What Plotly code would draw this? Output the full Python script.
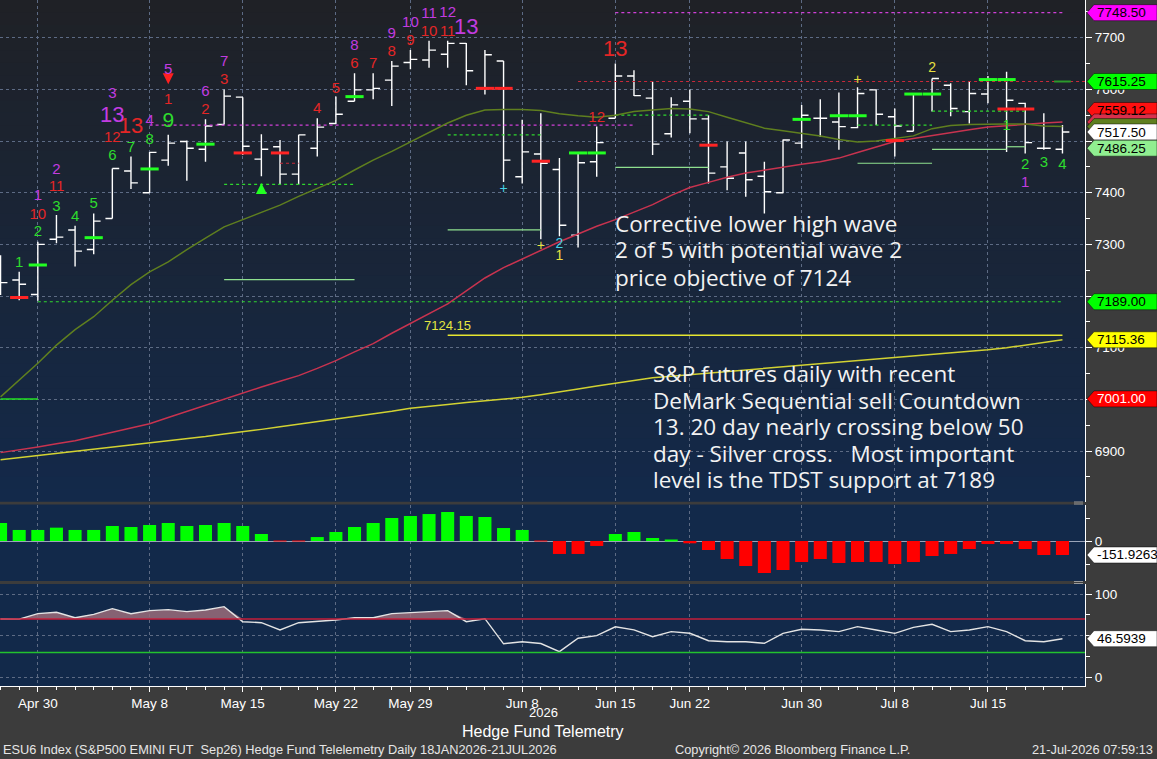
import plotly.graph_objects as go

# ---- data (ESU6 daily, Apr 28 - Jul 21 2026) ----
dates = ["Apr 28", "Apr 29", "Apr 30", "May 1", "May 4", "May 5", "May 6", "May 7",
         "May 8", "May 11", "May 12", "May 13", "May 14", "May 15", "May 18", "May 19",
         "May 20", "May 21", "May 22", "May 26", "May 27", "May 28", "May 29", "Jun 1",
         "Jun 2", "Jun 3", "Jun 4", "Jun 5", "Jun 8", "Jun 9", "Jun 10", "Jun 11",
         "Jun 12", "Jun 15", "Jun 16", "Jun 17", "Jun 18", "Jun 22", "Jun 23", "Jun 24",
         "Jun 25", "Jun 26", "Jun 29", "Jun 30", "Jul 1", "Jul 2", "Jul 6", "Jul 7",
         "Jul 8", "Jul 9", "Jul 10", "Jul 13", "Jul 14", "Jul 15", "Jul 16", "Jul 17",
         "Jul 20", "Jul 21"]
tick_dates = ["Apr 30", "May 8", "May 15", "May 22", "May 29", "Jun 8", "Jun 15",
              "Jun 22", "Jun 30", "Jul 8", "Jul 15"]
price_ticks = [6900, 7000, 7100, 7200, 7300, 7400, 7500, 7600, 7700]
price_tick_text = ["6900", "", "7100", "", "7300", "7400", "", "7600", "7700"]

opens = [7260, 7231, 7203, 7310, 7328, 7290, 7350, 7442, 7400, 7463, 7499, 7484, 7532, 7585,
         7465, 7489, 7436, 7486, 7534, 7577, 7599, 7618, 7652, 7657, 7668, 7689, 7602, 7655,
         7431, 7475, 7445, 7318, 7460, 7544, 7626, 7583, 7514, 7577, 7543, 7450, 7477, 7432,
         7400, 7496, 7544, 7537, 7526, 7599, 7547, 7519, 7591, 7608, 7557, 7591, 7619, 7573,
         7486, 7484]
highs = [7279, 7247, 7305, 7357, 7336, 7360, 7447, 7470, 7479, 7512, 7501, 7542, 7600, 7585,
         7513, 7502, 7512, 7544, 7586, 7631, 7631, 7655, 7676, 7694, 7694, 7690, 7676, 7655,
         7541, 7554, 7467, 7477, 7528, 7650, 7637, 7615, 7585, 7600, 7550, 7499, 7499, 7460,
         7503, 7570, 7581, 7594, 7604, 7600, 7563, 7592, 7621, 7612, 7615, 7626, 7634, 7574,
         7554, 7531]
lows = [7202, 7192, 7191, 7302, 7257, 7281, 7350, 7407, 7400, 7452, 7423, 7460, 7532, 7473,
        7432, 7416, 7416, 7470, 7533, 7577, 7581, 7568, 7639, 7642, 7642, 7608, 7590, 7421,
        7418, 7310, 7316, 7294, 7431, 7544, 7587, 7473, 7507, 7515, 7418, 7405, 7392, 7360,
        7399, 7486, 7508, 7483, 7525, 7531, 7470, 7519, 7557, 7548, 7534, 7573, 7479, 7476,
        7483, 7476]
closes = [7226, 7223, 7300, 7314, 7287, 7345, 7447, 7419, 7478, 7496, 7486, 7529, 7587, 7490,
          7484, 7436, 7512, 7527, 7552, 7599, 7602, 7645, 7658, 7676, 7689, 7636, 7667, 7463,
          7479, 7457, 7337, 7458, 7497, 7626, 7588, 7494, 7570, 7543, 7438, 7428, 7425, 7402,
          7502, 7550, 7544, 7528, 7592, 7552, 7529, 7591, 7621, 7563, 7592, 7619, 7579, 7497,
          7486, 7517.5]

sma20 = [7005, 7038, 7070, 7105, 7135, 7160, 7192, 7222, 7247, 7266, 7290, 7312, 7334, 7348,
         7362, 7376, 7393, 7408, 7424, 7444, 7463, 7480, 7498, 7516, 7535, 7550, 7560, 7561,
         7561, 7559, 7553, 7549, 7546, 7550, 7557, 7560, 7563, 7562, 7557, 7546, 7535, 7525,
         7520, 7515, 7510, 7503, 7498, 7500, 7505, 7510, 7524, 7530, 7532, 7533, 7533, 7533,
         7529, 7528]
sma50 = [6897, 6902, 6908, 6914, 6920, 6928, 6936, 6944, 6953, 6965, 6977, 6989, 7001, 7013,
         7024, 7035, 7046, 7060, 7075, 7092, 7108, 7128, 7147, 7165, 7185, 7210, 7235, 7255,
         7272, 7289, 7305, 7320, 7335, 7348, 7362, 7377, 7395, 7410, 7420, 7430, 7438, 7444,
         7450, 7455, 7460, 7467, 7478, 7489, 7499, 7505, 7511, 7516, 7522, 7527, 7530, 7533,
         7535, 7537]
sma200 = [6883, 6887, 6891, 6895, 6899, 6903, 6907, 6911, 6915, 6919, 6924, 6928, 6933, 6937,
          6942, 6947, 6952, 6956, 6961, 6966, 6972, 6977, 6983, 6986, 6990, 6994, 6997, 7000,
          7004, 7009, 7014, 7020, 7026, 7031, 7037, 7042, 7045, 7048, 7050, 7053, 7056, 7059,
          7062, 7066, 7069, 7072, 7075, 7078, 7080, 7083, 7086, 7089, 7092, 7096, 7100, 7105,
          7110, 7115.36]

hist = [196, 120, 120, 145, 120, 120, 163, 152, 174, 196, 163, 174, 196, 163, 76, -3, -3, 43,
        98, 152, 196, 250, 272, 293, 315, 272, 261, 141, 120, -2, -141, -141, -54, 76, 98, 33,
        11, -25, -98, -196, -272, -348, -315, -228, -196, -239, -228, -228, -250, -228, -163,
        -141, -87, -33, -33, -87, -152, -151.9263]
osc = [70.2, 70, 76.5, 78.1, 71.7, 75.7, 82.5, 76.5, 80.1, 81.3, 78.9, 80.9, 84.9, 66.9, 65.7,
       57, 65.7, 66.9, 69, 71.7, 71.7, 76.5, 77.7, 78.9, 80.1, 66.9, 70.5, 40.5, 43, 40.8, 31.1,
       47.1, 50.2, 60.8, 57.2, 49, 55, 53.1, 44.2, 43, 43, 41.1, 53, 57.8, 57, 55, 61, 57, 53,
       60.2, 63.8, 55, 57, 61, 55, 44.2, 43, 46.5939]
osc_upper, osc_lower = 70, 30

# DeMark counts: (date, price, label)
setup_green = [("Apr 29", 7264, "1"), ("Apr 30", 7324, "2"), ("May 1", 7372, "3"),
               ("May 4", 7353, "4"), ("May 5", 7378, "5"), ("May 6", 7471, "6"),
               ("May 7", 7487, "7"), ("May 8", 7502, "8"), ("Jul 16", 7529, "1"),
               ("Jul 17", 7454, "2"), ("Jul 20", 7458, "3"), ("Jul 21", 7454, "4")]
setup_green_big = [("May 11", 7537, "9")]
countdown_red = [("Apr 30", 7357, "10"), ("May 1", 7410, "11"), ("May 6", 7506, "12"),
                 ("May 11", 7579, "1"), ("May 13", 7560, "2"), ("May 14", 7618, "3"),
                 ("May 21", 7562, "4"), ("May 22", 7601, "5"), ("May 26", 7649, "6"),
                 ("May 27", 7649, "7"), ("May 28", 7672, "8"), ("May 29", 7694, "9"),
                 ("Jun 1", 7711, "10"), ("Jun 2", 7711, "11"), ("Jun 12", 7545, "12")]
countdown_red_big = [("May 7", 7527, "13"), ("Jun 15", 7676, "13")]
combo_magenta = [("Apr 30", 7394, "1"), ("May 1", 7444, "2"), ("May 6", 7591, "3"),
                 ("May 8", 7539, "4"), ("May 11", 7637, "5"), ("May 13", 7595, "6"),
                 ("May 14", 7653, "7"), ("May 26", 7684, "8"), ("May 28", 7707, "9"),
                 ("May 29", 7728, "10"), ("Jun 1", 7746, "11"), ("Jun 2", 7748, "12"),
                 ("Jul 17", 7419, "1")]
combo_magenta_big = [("May 6", 7548, "13"), ("Jun 3", 7717, "13")]
marks_yellow = [("Jun 9", 7295, "+"), ("Jun 10", 7276, "1"), ("Jul 6", 7618, "+"),
                ("Jul 10", 7641, "2")]
marks_cyan = [("Jun 5", 7407, "+"), ("Jun 10", 7300, "2")]
sell_arrows = [("May 11", 7610)]
buy_arrows = [("May 18", 7419)]

red_ticks = [("Apr 29", 7197), ("May 15", 7477), ("May 19", 7477), ("Jun 4", 7602),
             ("Jun 5", 7602), ("Jun 9", 7461), ("Jun 23", 7492), ("Jul 8", 7501),
             ("Jul 16", 7562), ("Jul 17", 7562)]
green_ticks = [("Apr 30", 7260), ("May 5", 7313), ("May 8", 7446), ("May 13", 7494),
               ("May 26", 7586), ("Jun 11", 7477), ("Jun 12", 7477), ("Jun 30", 7542),
               ("Jul 2", 7549), ("Jul 6", 7549), ("Jul 9", 7591), ("Jul 10", 7591),
               ("Jul 15", 7619), ("Jul 16", 7619)]
last_green_tick = [("Jul 21", 7615.25)]

# level segments: (start, end, price); end None = runs to the right edge
green_dotted = [("Apr 30", "Jul 21", 7189), ("May 14", "May 26", 7416), ("Jun 2", "Jun 9", 7512),
                ("Jun 15", "Jun 23", 7550), ("Jul 6", "Jul 10", 7531), ("Jul 10", "Jul 17", 7558)]
green_solid = [("May 14", "May 26", 7232), ("Jun 2", "Jun 9", 7328), ("Jun 15", "Jun 23", 7449),
               ("Jul 6", "Jul 10", 7457), ("Jul 10", "Jul 16", 7484), ("Jul 16", "Jul 17", 7489)]
bright_green = [("Apr 28", "Apr 30", 7001)]
red_dotted = [("Jun 11", None, 7615.25), ("May 19", "May 20", 7457)]
magenta_dotted = [("May 8", "Jun 16", 7531), ("Jun 15", "Jul 21", 7748.5)]
objective = [("Jun 2", "Jul 21", 7124.15)]

note1 = ["Corrective lower high wave", "2 of 5 with potential wave 2", "price objective of 7124"]
note2 = ["S&P futures daily with recent", "DeMark Sequential sell Countdown",
         "13. 20 day nearly crossing below 50", "day - Silver cross.   Most important",
         "level is the TDST support at 7189"]

# ---- layout geometry ----
FONT = "Liberation Sans, Arial, sans-serif"
NOTE_FONT = "Open Sans, DejaVu Sans, sans-serif"
W, H = 1157, 759
PW, PH = 1085, 686


def px_x(px):
    return px / PW


def px_y(py):
    return (PH - py) / PH


MAIN_DOM = [px_y(501.5), 1.0]
HIST_DOM = [px_y(581), px_y(504.5)]
OSC_DOM = [0.0, px_y(584)]
MAIN_RNG = [6802.4, 7773.0]
HIST_RNG = [-434.8, 396.8]
OSC_RNG = [-9.92, 111.95]
X_RNG = [-0.03, 58.21]
GRID = "#5d6b84"

idx = list(range(len(dates)))
pos = {d: i for i, d in enumerate(dates)}

fig = go.Figure()


def seg_trace(segs, color, dash, width):
    xs, ys = [], []
    for s, e, v in segs:
        xs += [pos[s], pos[e] if e else X_RNG[1], None]
        ys += [v, v, None]
    return go.Scatter(x=xs, y=ys, mode="lines", hoverinfo="skip",
                      line=dict(color=color, dash=dash, width=width))


def text_trace(items, color, size):
    return go.Scatter(x=[pos[d] for d, _, _ in items], y=[v for _, v, _ in items],
                      text=[t for _, _, t in items], mode="text", hoverinfo="skip",
                      textposition="middle center",
                      textfont=dict(color=color, size=size, family=FONT))


def tick_trace(items, color, size=13, width=3):
    return go.Scatter(x=[pos[d] for d, _ in items], y=[v for _, v in items], mode="markers",
                      hoverinfo="skip",
                      marker=dict(symbol="line-ew", size=size, line=dict(color=color, width=width)))


# level lines
fig.add_trace(seg_trace(green_dotted, "#2fd62f", "dot", 1.2))
fig.add_trace(seg_trace(green_solid, "#8fe08f", "solid", 1.2))
fig.add_trace(seg_trace(bright_green, "#22e022", "solid", 1.5))
fig.add_trace(seg_trace(red_dotted, "#c8283a", "dot", 1.2))
fig.add_trace(seg_trace(magenta_dotted, "#d040d8", "dot", 1.2))
fig.add_trace(seg_trace(objective, "#e6e630", "solid", 1.5))

# moving averages
fig.add_trace(go.Scatter(x=idx, y=sma200, mode="lines", line=dict(color="#d2d232", width=1.5), hoverinfo="skip"))
fig.add_trace(go.Scatter(x=idx, y=sma50, mode="lines", line=dict(color="#c8334f", width=1.5), hoverinfo="skip"))
fig.add_trace(go.Scatter(x=idx, y=sma20, mode="lines", line=dict(color="#5f7f1f", width=1.5), hoverinfo="skip"))

# price bars
fig.add_trace(go.Ohlc(x=idx, open=opens, high=highs, low=lows, close=closes, tickwidth=0.37,
                      increasing=dict(line=dict(color="white", width=1.4)),
                      decreasing=dict(line=dict(color="white", width=1.4)),
                      hoverinfo="skip"))

# short level ticks
fig.add_trace(tick_trace(red_ticks, "#ff2424"))
fig.add_trace(tick_trace(green_ticks, "#22ff22"))
fig.add_trace(tick_trace(last_green_tick, "#2c9a2c", size=12, width=2))

# arrows
fig.add_trace(go.Scatter(x=[pos[d] for d, _ in sell_arrows], y=[v for _, v in sell_arrows],
                         mode="markers", hoverinfo="skip",
                         marker=dict(symbol="arrow-down", size=11, color="#ff2020")))
fig.add_trace(go.Scatter(x=[pos[d] for d, _ in buy_arrows], y=[v for _, v in buy_arrows],
                         mode="markers", hoverinfo="skip",
                         marker=dict(symbol="arrow-up", size=11, color="#22ff22")))

# DeMark counts
fig.add_trace(text_trace(setup_green, "#2edc2e", 15))
fig.add_trace(text_trace(setup_green_big, "#2edc2e", 21))
fig.add_trace(text_trace(countdown_red, "#e42626", 15))
fig.add_trace(text_trace(countdown_red_big, "#e42626", 22))
fig.add_trace(text_trace(combo_magenta, "#c23ce0", 15))
fig.add_trace(text_trace(combo_magenta_big, "#c23ce0", 22))
fig.add_trace(text_trace(marks_yellow, "#e8e040", 14))
fig.add_trace(text_trace(marks_cyan, "#46d2e6", 14))

# histogram panel
fig.add_trace(go.Bar(x=idx, y=hist, yaxis="y2", width=0.7, hoverinfo="skip",
                     marker=dict(color=["#00ff00" if v > 0 else "#ff0000" for v in hist], line_width=0)))

# oscillator panel
fig.add_trace(go.Scatter(x=idx, y=[osc_upper] * len(idx), yaxis="y3", mode="lines",
                         line=dict(width=0), hoverinfo="skip"))
fig.add_trace(go.Scatter(x=idx, y=[max(v, osc_upper) for v in osc], yaxis="y3", mode="lines",
                         line=dict(width=0), fill="tonexty", fillcolor="rgba(155,108,122,0.85)",
                         hoverinfo="skip"))
fig.add_trace(go.Scatter(x=idx, y=osc, yaxis="y3", mode="lines",
                         line=dict(color="#e4e4e4", width=1.4), hoverinfo="skip"))

shapes = []
# background gradient of the price panel
N = 40
top_c, bot_c = (31, 33, 38), (19, 41, 74)
for k in range(N):
    f = (k + 0.5) / N
    c = tuple(round(bot_c[j] + (top_c[j] - bot_c[j]) * f) for j in range(3))
    y0 = MAIN_DOM[0] + (MAIN_DOM[1] - MAIN_DOM[0]) * k / N
    y1 = MAIN_DOM[0] + (MAIN_DOM[1] - MAIN_DOM[0]) * (k + 1) / N
    shapes.append(dict(type="rect", xref="paper", yref="paper", x0=0, x1=1, y0=y0, y1=y1 + 0.001,
                       fillcolor="rgb(%d,%d,%d)" % c, line_width=0, layer="below"))

for lvl, col in ((osc_upper, "#c41e3a"), (osc_lower, "#22c22e")):
    shapes.append(dict(type="line", xref="paper", yref="y3", x0=0, x1=1, y0=lvl, y1=lvl,
                       line=dict(color=col, width=1.5)))

# small grip marks at the right end of the panel separators
for sy in (503, 582.5):
    for dy in (-1, 1):
        shapes.append(dict(type="line", xref="paper", yref="paper", x0=px_x(1074), x1=px_x(1083),
                           y0=px_y(sy + dy), y1=px_y(sy + dy), line=dict(color="#9a9a9a", width=1)))


def val_to_py(v, rng, dom):
    frac = (v - rng[0]) / (rng[1] - rng[0])
    yp = dom[0] + frac * (dom[1] - dom[0])
    return PH - yp * PH


annotations = []


def add_tag(v, rng, dom, bg, fg, text):
    yc = val_to_py(v, rng, dom)
    xt, xb, xe = px_x(1087), px_x(1094), px_x(W)
    a, b = px_y(yc - 8), px_y(yc + 8)
    m = px_y(yc)
    shapes.append(dict(type="path", xref="paper", yref="paper",
                       path="M %f,%f L %f,%f L %f,%f L %f,%f L %f,%f Z" % (xt, m, xb, a, xe, a, xe, b, xb, b),
                       fillcolor=bg, line=dict(color="rgba(0,0,0,0.45)", width=1)))
    if text:
        annotations.append(dict(xref="paper", yref="paper", x=px_x(1095), y=m, xanchor="left",
                                yanchor="middle", text=text, showarrow=False,
                                font=dict(family=FONT, size=13.5, color=fg)))


add_tag(7748.50, MAIN_RNG, MAIN_DOM, "#ff00ff", "black", "7748.50")
add_tag(7615.25, MAIN_RNG, MAIN_DOM, "#00ff00", "black", "7615.25")
add_tag(7559.12, MAIN_RNG, MAIN_DOM, "#ff1010", "black", "7559.12")
add_tag(sma50[-1], MAIN_RNG, MAIN_DOM, "#d8304c", "black", "")
add_tag(sma20[-1], MAIN_RNG, MAIN_DOM, "#5f7f1f", "black", "")
add_tag(closes[-1], MAIN_RNG, MAIN_DOM, "#ffffff", "black", "7517.50")
add_tag(7486.25, MAIN_RNG, MAIN_DOM, "#90ee90", "black", "7486.25")
add_tag(7189.00, MAIN_RNG, MAIN_DOM, "#00ff00", "black", "7189.00")
add_tag(sma200[-1], MAIN_RNG, MAIN_DOM, "#ffff00", "black", "7115.36")
add_tag(7001.00, MAIN_RNG, MAIN_DOM, "#ff0000", "white", "7001.00")
add_tag(hist[-1], HIST_RNG, HIST_DOM, "#ffffff", "black", "-151.9263")
add_tag(osc[-1], OSC_RNG, OSC_DOM, "#ffffff", "black", "46.5939")

# commentary
for k, line in enumerate(note1):
    annotations.append(dict(xref="paper", yref="paper", x=px_x(613), y=px_y(223 + 27 * k),
                            xanchor="left", yanchor="middle", text=line, showarrow=False,
                            font=dict(family=NOTE_FONT, size=22.5, color="#f2f2f2")))
for k, line in enumerate(note2):
    annotations.append(dict(xref="paper", yref="paper", x=px_x(651), y=px_y(373.5 + 26.6 * k),
                            xanchor="left", yanchor="middle", text=line, showarrow=False,
                            font=dict(family=NOTE_FONT, size=22.5, color="#f2f2f2")))

annotations.append(dict(xref="x", yref="y", x=pos["Jun 2"], y=objective[0][2], xanchor="center",
                        yanchor="bottom", text="7124.15", showarrow=False,
                        font=dict(family=FONT, size=13, color="#e6e640")))

# bottom texts
annotations += [
    dict(xref="paper", yref="paper", x=px_x(543), y=px_y(712), text="2026", showarrow=False,
         xanchor="center", yanchor="middle", font=dict(family=FONT, size=13, color="white")),
    dict(xref="paper", yref="paper", x=px_x(543), y=px_y(731), text="Hedge Fund Telemetry",
         showarrow=False, xanchor="center", yanchor="middle",
         font=dict(family=FONT, size=16, color="white")),
    dict(xref="paper", yref="paper", x=px_x(1), y=px_y(749),
         text="ESU6 Index (S&P500 EMINI FUT  Sep26) Hedge Fund Telelemetry Daily 18JAN2026-21JUL2026",
         showarrow=False, xanchor="left", yanchor="middle",
         font=dict(family=FONT, size=12.8, color="#e6e6e6")),
    dict(xref="paper", yref="paper", x=px_x(792), y=px_y(749),
         text="Copyright\u00a9 2026 Bloomberg Finance L.P.", showarrow=False, xanchor="center",
         yanchor="middle", font=dict(family=FONT, size=12.8, color="#e6e6e6")),
    dict(xref="paper", yref="paper", x=px_x(1155), y=px_y(749), text="21-Jul-2026 07:59:13",
         showarrow=False, xanchor="right", yanchor="middle",
         font=dict(family=FONT, size=12.8, color="#e6e6e6")),
]

tickfont = dict(family=FONT, size=13.5, color="white")
fig.update_layout(
    width=W, height=H, autosize=False,
    margin=dict(l=0, r=W - PW, t=0, b=H - PH),
    paper_bgcolor="#3c3c3c", plot_bgcolor="#12294a",
    showlegend=False, hovermode=False, bargap=0.3,
    shapes=shapes, annotations=annotations,
    xaxis=dict(domain=[0, 1], range=X_RNG, anchor="y3", tickmode="array",
               tickvals=[pos[d] for d in tick_dates], ticktext=tick_dates,
               ticks="outside", ticklen=5, tickcolor="white", tickfont=tickfont,
               showline=True, linecolor="white", linewidth=1, zeroline=False,
               showgrid=True, gridcolor=GRID, griddash="dot", gridwidth=1,
               minor=dict(tickvals=idx, ticks="outside", ticklen=3, tickcolor="white", showgrid=False),
               rangeslider=dict(visible=False)),
    yaxis=dict(domain=MAIN_DOM, range=MAIN_RNG, anchor="x", side="right",
               tickmode="array", tickvals=price_ticks, ticktext=price_tick_text,
               ticks="outside", ticklen=6,
               tickcolor="white", tickfont=tickfont, showline=True, linecolor="white",
               showgrid=True, gridcolor=GRID, griddash="dot", zeroline=False,
               minor=dict(dtick=50, ticks="outside", ticklen=4, tickcolor="white", showgrid=False)),
    yaxis2=dict(domain=HIST_DOM, range=HIST_RNG, anchor="x", side="right",
                tickmode="array", tickvals=[0], ticktext=["0"], ticks="outside", ticklen=6,
                tickcolor="white", tickfont=tickfont, showline=True, linecolor="white",
                showgrid=False, zeroline=True, zerolinecolor="#9aa4b8", zerolinewidth=1,
                minor=dict(tickvals=[-250, 250], ticks="outside", ticklen=4, tickcolor="white")),
    yaxis3=dict(domain=OSC_DOM, range=OSC_RNG, anchor="x", side="right",
                tickmode="array", tickvals=[0, 50, 100], ticktext=["0", "", "100"],
                ticks="outside", ticklen=6, tickcolor="white", tickfont=tickfont,
                showline=True, linecolor="white", showgrid=True, gridcolor=GRID,
                griddash="dot", zeroline=False,
                minor=dict(tickvals=[25, 75], ticks="outside", ticklen=4, tickcolor="white",
                           showgrid=False)),
)

# the page body has a default 8px margin; remove it so the figure sits at the window corner
fig.write_html("out.html", config={"displayModeBar": False},
               post_script="document.body.style.margin='0';")
